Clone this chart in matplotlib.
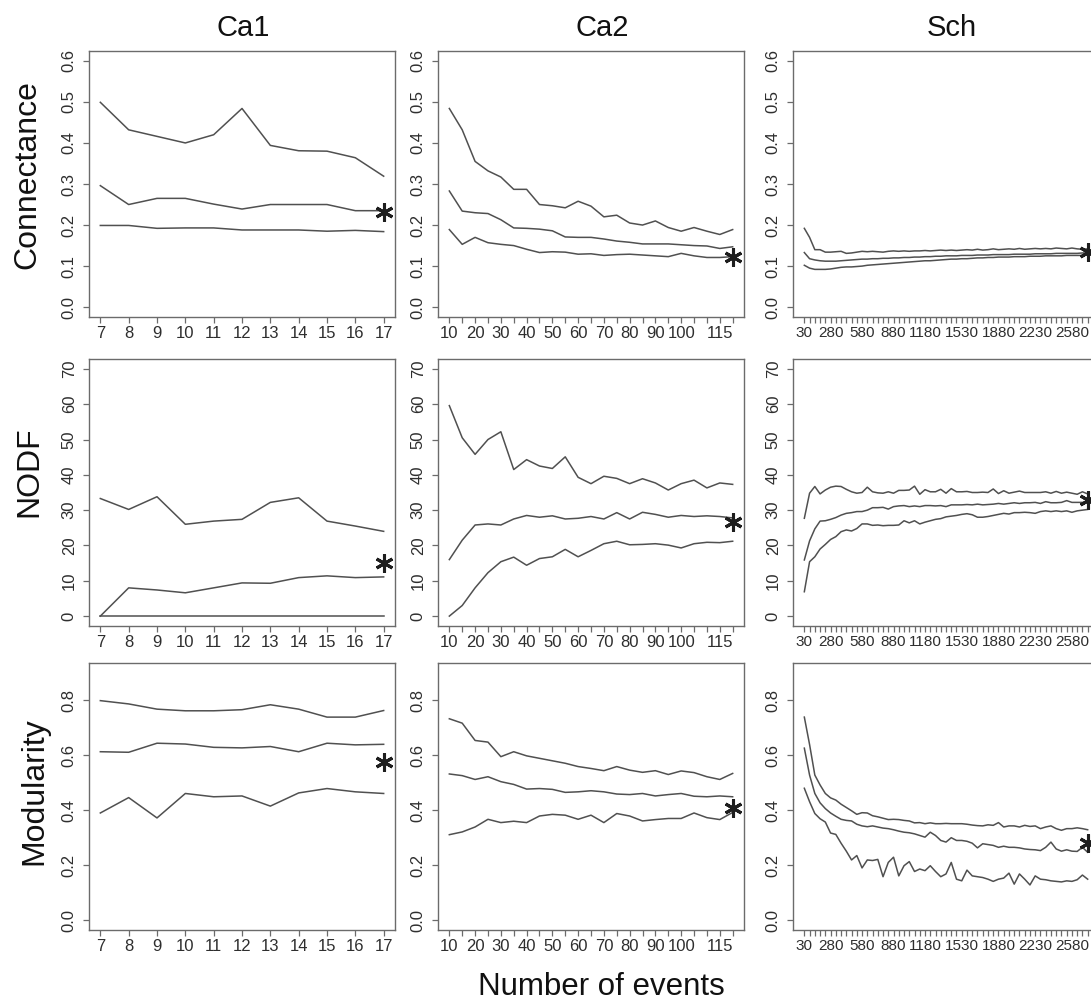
import matplotlib.pyplot as plt

plt.rcParams['font.family'] = ['Liberation Sans', 'DejaVu Sans']

# number of events on the x axis of each site (plotted by index)
ca1_events = [7, 8, 9, 10, 11, 12, 13, 14, 15, 16, 17]
ca1_shown = [7, 8, 9, 10, 11, 12, 13, 14, 15, 16, 17]
ca2_events = list(range(10, 121, 5))
ca2_shown = [10, 20, 30, 40, 50, 60, 70, 80, 90, 100, 115]
sch_events = list(range(30, 2731, 50))
sch_shown = [30, 280, 580, 880, 1180, 1530, 1880, 2230, 2580]

# Connectance (upper, middle, lower curves)
ca1_conn_hi = [0.499, 0.432, 0.416, 0.400, 0.420, 0.484, 0.394, 0.381, 0.380, 0.364, 0.319]
ca1_conn_mid = [0.296, 0.250, 0.265, 0.265, 0.251, 0.239, 0.250, 0.250, 0.250, 0.235, 0.235]
ca1_conn_lo = [0.199, 0.199, 0.192, 0.193, 0.193, 0.188, 0.188, 0.188, 0.185, 0.187, 0.184]
ca2_conn_hi = [0.484, 0.432, 0.355, 0.332, 0.317, 0.287, 0.287, 0.250, 0.247, 0.242, 0.258,
               0.246, 0.220, 0.224, 0.205, 0.200, 0.210, 0.194, 0.185, 0.194, 0.185, 0.177, 0.189]
ca2_conn_mid = [0.283, 0.234, 0.230, 0.228, 0.213, 0.193, 0.192, 0.190, 0.186, 0.171, 0.170,
                0.170, 0.166, 0.161, 0.158, 0.154, 0.154, 0.154, 0.152, 0.150, 0.149, 0.143, 0.147]
ca2_conn_lo = [0.189, 0.153, 0.170, 0.157, 0.153, 0.150, 0.141, 0.133, 0.135, 0.134, 0.129,
               0.130, 0.126, 0.128, 0.129, 0.127, 0.125, 0.123, 0.131, 0.125, 0.121, 0.121, 0.123]
sch_conn_hi = [0.192, 0.170, 0.140, 0.140, 0.134, 0.134, 0.135, 0.136, 0.131, 0.132, 0.134,
               0.136, 0.135, 0.136, 0.135, 0.134, 0.136, 0.137, 0.136, 0.137, 0.136, 0.137,
               0.137, 0.138, 0.137, 0.138, 0.139, 0.138, 0.139, 0.138, 0.139, 0.140, 0.139,
               0.141, 0.139, 0.140, 0.142, 0.140, 0.141, 0.142, 0.141, 0.143, 0.141, 0.142,
               0.143, 0.142, 0.143, 0.142, 0.144, 0.143, 0.142, 0.144, 0.142, 0.141, 0.142]
sch_conn_mid = [0.133, 0.118, 0.115, 0.113, 0.112, 0.112, 0.112, 0.113, 0.114, 0.115, 0.116,
                0.117, 0.117, 0.118, 0.118, 0.119, 0.119, 0.120, 0.120, 0.121, 0.121, 0.122,
                0.122, 0.123, 0.123, 0.124, 0.124, 0.125, 0.125, 0.125, 0.126, 0.126, 0.126,
                0.127, 0.127, 0.127, 0.128, 0.128, 0.128, 0.128, 0.129, 0.129, 0.129, 0.129,
                0.130, 0.130, 0.130, 0.130, 0.131, 0.131, 0.131, 0.131, 0.131, 0.132, 0.132]
sch_conn_lo = [0.102, 0.095, 0.092, 0.092, 0.092, 0.093, 0.095, 0.097, 0.098, 0.098, 0.099,
               0.100, 0.102, 0.103, 0.104, 0.105, 0.106, 0.107, 0.108, 0.109, 0.110, 0.111,
               0.112, 0.113, 0.113, 0.114, 0.115, 0.116, 0.117, 0.117, 0.118, 0.118, 0.119,
               0.120, 0.120, 0.121, 0.121, 0.122, 0.122, 0.122, 0.123, 0.123, 0.123, 0.124,
               0.124, 0.124, 0.125, 0.125, 0.125, 0.125, 0.126, 0.126, 0.126, 0.126, 0.127]

# NODF
ca1_nodf_hi = [33.3, 30.2, 33.8, 26.0, 26.9, 27.4, 32.2, 33.5, 26.9, 25.5, 24.0]
ca1_nodf_mid = [0.0, 8.0, 7.4, 6.6, 8.0, 9.4, 9.3, 10.9, 11.4, 10.9, 11.1]
ca1_nodf_lo = [0.0, 0.0, 0.0, 0.0, 0.0, 0.0, 0.0, 0.0, 0.0, 0.0, 0.0]
ca2_nodf_hi = [59.6, 50.5, 45.8, 50.0, 52.2, 41.5, 44.3, 42.5, 41.8, 45.1, 39.3,
               37.5, 39.6, 39.0, 37.5, 38.9, 37.7, 35.7, 37.5, 38.5, 36.3, 37.7, 37.3]
ca2_nodf_mid = [16.0, 21.5, 25.8, 26.1, 25.8, 27.5, 28.5, 28.0, 28.4, 27.5, 27.7,
                28.2, 27.5, 29.3, 27.5, 29.4, 28.8, 28.0, 28.5, 28.2, 28.4, 28.2, 27.8]
ca2_nodf_lo = [0.0, 3.0, 8.0, 12.3, 15.4, 16.7, 14.4, 16.3, 16.8, 18.9, 16.8,
               18.6, 20.5, 21.2, 20.2, 20.3, 20.5, 20.1, 19.3, 20.5, 20.9, 20.8, 21.2]
sch_nodf_hi = [27.7, 34.8, 36.7, 34.6, 35.7, 36.5, 36.8, 36.7, 35.9, 35.2, 34.8,
               35.0, 36.5, 35.2, 34.9, 34.8, 35.2, 34.8, 35.6, 35.6, 35.7, 36.8,
               34.5, 35.8, 35.2, 35.2, 35.9, 34.8, 36.1, 35.2, 35.2, 35.3, 35.0,
               35.0, 35.1, 35.0, 36.0, 34.7, 35.5, 34.8, 35.1, 35.4, 35.0, 35.0,
               35.0, 35.0, 35.2, 34.8, 35.3, 34.8, 35.1, 34.8, 34.5, 35.2, 34.6]
sch_nodf_mid = [15.9, 21.3, 24.7, 26.9, 27.0, 27.4, 27.9, 28.6, 29.1, 29.3, 29.6,
                29.6, 30.0, 30.7, 30.7, 30.8, 30.3, 31.0, 31.2, 31.3, 31.0, 31.2,
                31.0, 31.3, 31.3, 31.2, 31.3, 31.0, 31.5, 31.5, 31.5, 31.6, 31.5,
                31.7, 31.5, 31.6, 31.7, 31.9, 31.7, 31.9, 32.1, 31.9, 32.1, 32.1,
                32.2, 31.9, 32.4, 32.1, 32.1, 32.2, 32.7, 32.2, 32.2, 32.2, 32.2]
sch_nodf_lo = [6.9, 15.4, 16.8, 19.0, 20.3, 21.7, 22.5, 23.9, 24.4, 24.1, 24.8,
               26.1, 26.1, 25.7, 25.8, 25.6, 25.7, 25.7, 25.8, 27.0, 26.4, 27.0,
               26.1, 26.6, 27.0, 27.4, 27.6, 28.1, 28.3, 28.5, 28.8, 29.0, 28.7,
               28.0, 28.0, 28.2, 28.5, 28.8, 29.1, 28.9, 29.3, 29.3, 29.4, 29.3,
               29.1, 29.6, 29.8, 29.6, 29.8, 29.6, 29.8, 29.4, 29.8, 30.0, 30.2]

# Modularity
ca1_mod_hi = [0.799, 0.787, 0.768, 0.762, 0.762, 0.766, 0.784, 0.768, 0.739, 0.739, 0.763]
ca1_mod_mid = [0.613, 0.611, 0.644, 0.641, 0.629, 0.627, 0.632, 0.613, 0.644, 0.638, 0.640]
ca1_mod_lo = [0.390, 0.446, 0.372, 0.461, 0.449, 0.452, 0.415, 0.463, 0.479, 0.467, 0.461]
ca2_mod_hi = [0.733, 0.717, 0.654, 0.648, 0.595, 0.613, 0.598, 0.589, 0.580, 0.571, 0.559,
              0.552, 0.544, 0.559, 0.546, 0.538, 0.544, 0.530, 0.543, 0.537, 0.522, 0.512, 0.534]
ca2_mod_mid = [0.532, 0.526, 0.512, 0.522, 0.504, 0.494, 0.477, 0.479, 0.476, 0.465, 0.467,
               0.471, 0.467, 0.459, 0.457, 0.461, 0.452, 0.457, 0.461, 0.451, 0.449, 0.452, 0.449]
ca2_mod_lo = [0.311, 0.321, 0.339, 0.367, 0.355, 0.360, 0.355, 0.379, 0.385, 0.382, 0.367,
              0.382, 0.355, 0.388, 0.379, 0.361, 0.366, 0.370, 0.370, 0.390, 0.373, 0.366, 0.392]
sch_mod_hi = [0.739, 0.639, 0.528, 0.492, 0.461, 0.445, 0.437, 0.422, 0.410, 0.398, 0.385,
              0.391, 0.390, 0.380, 0.376, 0.371, 0.366, 0.367, 0.366, 0.363, 0.361, 0.354,
              0.355, 0.351, 0.354, 0.351, 0.351, 0.352, 0.351, 0.351, 0.351, 0.349, 0.346,
              0.344, 0.343, 0.347, 0.345, 0.355, 0.339, 0.343, 0.343, 0.339, 0.345, 0.341,
              0.343, 0.333, 0.339, 0.343, 0.333, 0.327, 0.333, 0.333, 0.336, 0.333, 0.329]
sch_mod_mid = [0.626, 0.528, 0.461, 0.427, 0.406, 0.390, 0.378, 0.367, 0.363, 0.361, 0.349,
               0.343, 0.340, 0.343, 0.339, 0.335, 0.333, 0.329, 0.324, 0.320, 0.318, 0.314,
               0.308, 0.302, 0.320, 0.308, 0.290, 0.284, 0.300, 0.290, 0.290, 0.287, 0.280,
               0.263, 0.278, 0.275, 0.272, 0.265, 0.269, 0.265, 0.265, 0.263, 0.259, 0.257,
               0.256, 0.253, 0.265, 0.284, 0.259, 0.251, 0.256, 0.251, 0.250, 0.265, 0.247]
sch_mod_lo = [0.480, 0.431, 0.388, 0.369, 0.357, 0.317, 0.312, 0.280, 0.251, 0.219, 0.235,
              0.190, 0.219, 0.217, 0.221, 0.158, 0.210, 0.229, 0.161, 0.198, 0.213, 0.177,
              0.186, 0.180, 0.198, 0.177, 0.158, 0.168, 0.210, 0.149, 0.143, 0.182, 0.161,
              0.158, 0.155, 0.149, 0.141, 0.149, 0.153, 0.171, 0.131, 0.168, 0.149, 0.128,
              0.161, 0.149, 0.147, 0.143, 0.141, 0.139, 0.143, 0.141, 0.147, 0.164, 0.149]

# observed values for the full data set (asterisks)
ca1_obs = [0.232, 15.0, 0.576]
ca2_obs = [0.121, 26.6, 0.407]
sch_obs = [0.134, 32.9, 0.279]

sites = ['Ca1', 'Ca2', 'Sch']
metrics = ['Connectance', 'NODF', 'Modularity']

LINE = '#505050'
FRAME = '#6b6b6b'
TXT = '#2e2e2e'

W, H = 1091, 1001
fig = plt.figure(figsize=(W / 100, H / 100), dpi=100)

col_left = [89, 438, 793]
row_top = [51, 359, 663]
row_h = [266, 267, 267]
panel_w = 306

site_x = [ca1_events, ca2_events, sch_events]
site_shown = [ca1_shown, ca2_shown, sch_shown]
site_obs = [ca1_obs, ca2_obs, sch_obs]
# the long Sch axis gets a smaller size so its 4-digit labels keep a gap
site_xlabel_size = [12, 12, 11]
curves = [
    [(ca1_conn_hi, ca1_conn_mid, ca1_conn_lo), (ca2_conn_hi, ca2_conn_mid, ca2_conn_lo),
     (sch_conn_hi, sch_conn_mid, sch_conn_lo)],
    [(ca1_nodf_hi, ca1_nodf_mid, ca1_nodf_lo), (ca2_nodf_hi, ca2_nodf_mid, ca2_nodf_lo),
     (sch_nodf_hi, sch_nodf_mid, sch_nodf_lo)],
    [(ca1_mod_hi, ca1_mod_mid, ca1_mod_lo), (ca2_mod_hi, ca2_mod_mid, ca2_mod_lo),
     (sch_mod_hi, sch_mod_mid, sch_mod_lo)],
]
y_max = [0.6, 70, 0.9]
y_ticks = [
    (['0.0', '0.1', '0.2', '0.3', '0.4', '0.5', '0.6'], [0, 0.1, 0.2, 0.3, 0.4, 0.5, 0.6]),
    (['0', '10', '20', '30', '40', '50', '60', '70'], [0, 10, 20, 30, 40, 50, 60, 70]),
    (['0.0', '0.2', '0.4', '0.6', '0.8'], [0, 0.2, 0.4, 0.6, 0.8]),
]

for r in range(3):
    for c in range(3):
        left = col_left[c] / W
        bottom = 1 - (row_top[r] + row_h[r]) / H
        ax = fig.add_axes([left, bottom, panel_w / W, row_h[r] / H])
        events = site_x[c]
        idx = list(range(len(events)))
        for s in curves[r][c]:
            ax.plot(idx, s, color=LINE, lw=1.1)
        ax.plot(idx[-1], site_obs[c][r], ls='none', marker=(6, 2, 0), ms=13,
                mew=2.2, color='#1e1e1e')

        span = len(events) - 1
        ax.set_xlim(-0.04 * span, span * 1.04)
        ax.set_ylim(-0.04 * y_max[r], y_max[r] * 1.04)
        ax.set_xticks(idx)
        ax.set_xticklabels([str(e) if e in site_shown[c] else '' for e in events])
        labels, ticks = y_ticks[r]
        ax.set_yticks(ticks)
        ax.set_yticklabels(labels, rotation=90, va='center')

        for sp in ax.spines.values():
            sp.set_color(FRAME)
            sp.set_linewidth(1.0)
        ax.tick_params(axis='both', length=4.3, width=0.9, color=FRAME,
                       labelcolor=TXT, labelsize=12)
        ax.tick_params(axis='x', pad=2.5, labelsize=site_xlabel_size[c])
        ax.tick_params(axis='y', pad=4.5)

# column titles
title_x = [243, 602, 952]
for name, x in zip(sites, title_x):
    fig.text(x / W, 1 - 36 / H, name, ha='center', va='baseline', fontsize=21, color='#111111')

# row labels
label_pos = [(35, 175), (37, 472), (42, 791)]
for name, (x, y) in zip(metrics, label_pos):
    fig.text(x / W, 1 - y / H, name, rotation=90, rotation_mode='anchor',
             ha='center', va='baseline', fontsize=23, color='#111111')

fig.text(601 / W, 1 - 995 / H, 'Number of events', ha='center', va='baseline',
         fontsize=22.5, color='#111111')

fig.savefig('out.png', dpi=100)
